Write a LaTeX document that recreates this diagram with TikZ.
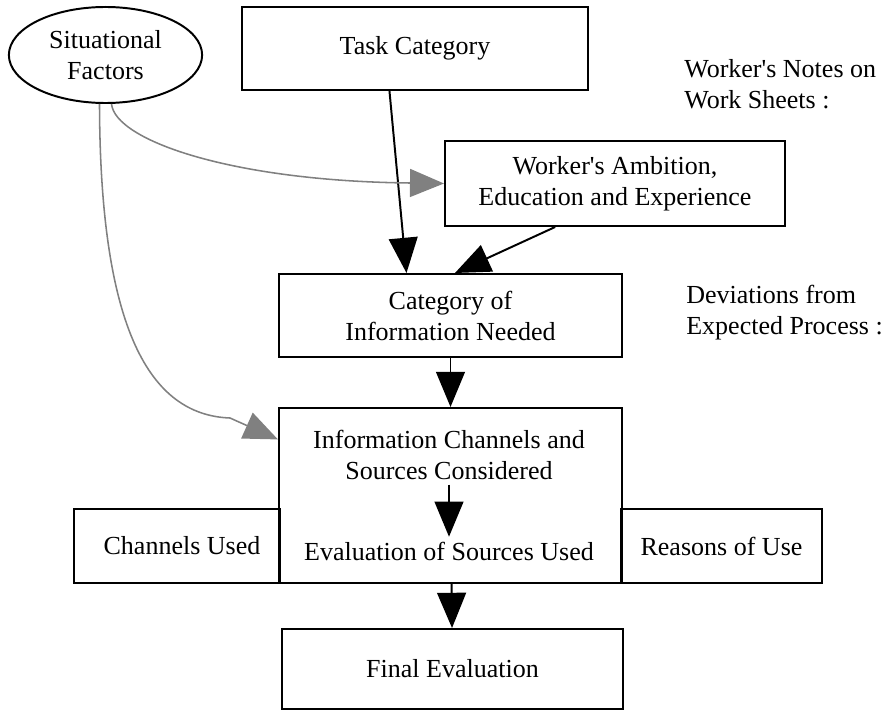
\documentclass[tikz,border=0pt]{standalone}
\usepackage{fontspec}
\setmainfont{Liberation Serif}
\usetikzlibrary{arrows.meta,shapes.geometric}

\tikzset{
    box/.style={draw, line width=1.4pt, align=center},
    flow/.style={-{Triangle[length=0.88cm,width=0.72cm]}, line width=1.4pt},
    infl/.style={-{Triangle[length=0.85cm,width=0.7cm]}, draw=gray, line width=1.1pt},
    note/.style={align=left, anchor=west, inner sep=0pt}
}

\begin{document}
\begin{tikzpicture}[x=0.025cm, y=-0.025cm, font=\fontsize{18.5}{22}\selectfont]
    \useasboundingbox (0,0) rectangle (892,715);
    \node[ellipse, box, minimum width=4.83cm, minimum height=2.4cm] at (105.5,55) (sit) {Situational\\Factors};
    \node[box, minimum width=8.65cm, minimum height=2.075cm] at (415,48.5) (task) {Task Category};
    \node[box, minimum width=8.5cm, minimum height=2.125cm] at (615,183.5) (amb) {Worker\textquotesingle s Ambition,\\Education and Experience};
    \node[box, minimum width=8.575cm, minimum height=2.075cm] at (450.5,315.5) (cat) {Category of\\Information Needed};
    \node[box, minimum width=8.575cm, minimum height=4.375cm] at (450.5,495.5) (chan) {};
    \node[box, minimum width=5.15cm, minimum height=1.85cm] at (177,546) (used) {\hspace*{0.25cm}Channels Used};
    \node[box, minimum width=5.025cm, minimum height=1.85cm] at (721.5,546) (reasons) {Reasons of Use};
    \node[box, minimum width=8.525cm, minimum height=2cm] at (452.5,669) (final) {Final Evaluation};
    \node[align=center] at (449,455) (considered) {Information Channels and\\Sources Considered};
    \node at (449,551) (evaluated) {Evaluation of Sources Used};
    \node[note] at (684,84) (notes) {Worker\textquotesingle s Notes on\\Work Sheets :};
    \node[note] at (686,313) (devs) {Deviations from\\Expected Process :};

    \draw[flow] (task.-121) -- (cat.136);
    \draw[flow] (amb.-144) -- (cat.84);
    \draw[flow] (cat) -- (chan);
    \draw[flow] (considered) -- (evaluated);
    \draw[flow] (chan) -- (final);
    % influence of the situation
    \draw[infl] (sit.-83) .. controls (115,140) and (230,181) .. (410,183) -- (amb.west);
    \draw[infl] (sit.-97) .. controls (100,330) and (150,415) .. (230,418) -- (chan.162);
\end{tikzpicture}
\end{document}
